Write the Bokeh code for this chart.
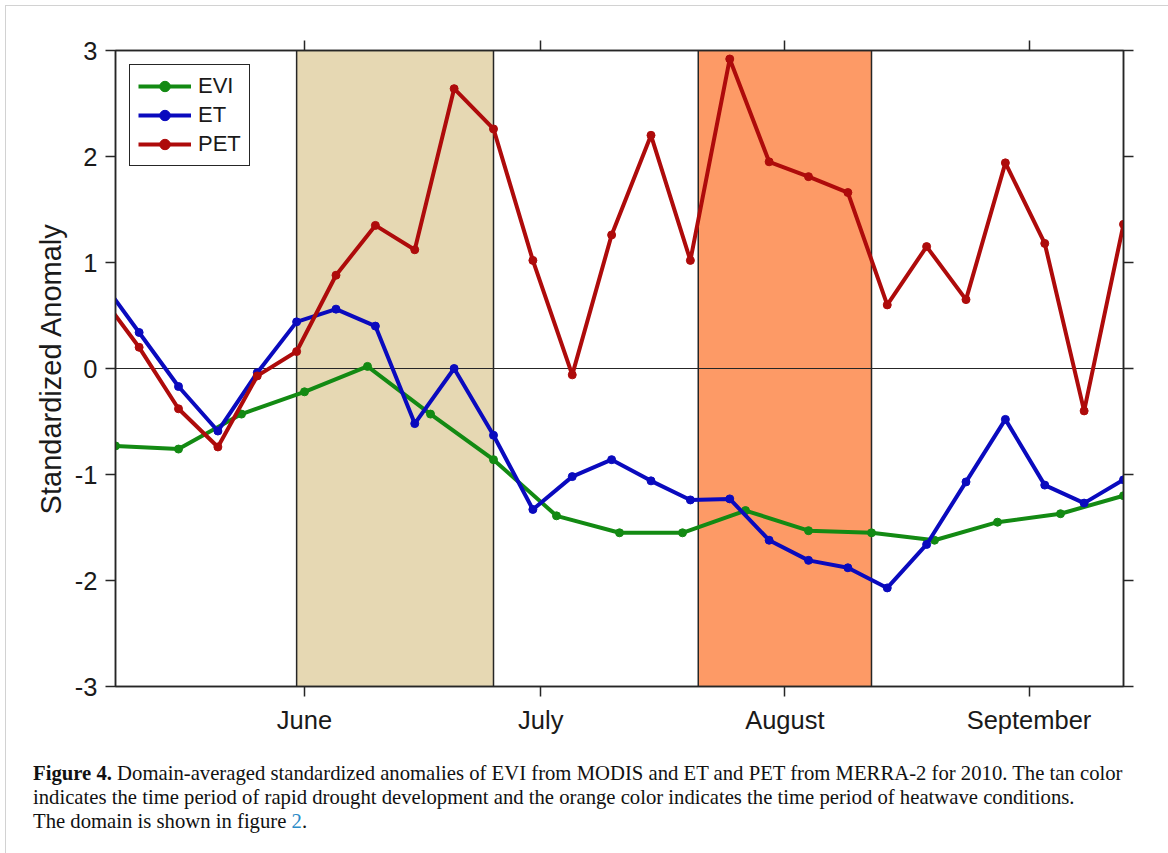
from bokeh.plotting import figure
from bokeh.layouts import column
from bokeh.models import Range1d, LinearAxis, FixedTicker, BoxAnnotation, Span, Div
from bokeh.embed import file_html
from bokeh.resources import INLINE

# ---------------- data ----------------
# day of year (2010) for the 8-day MODIS EVI values
evi_doy = [128, 136, 144, 152, 160, 168, 176, 184, 192, 200, 208, 216, 224, 232, 240, 248, 256]
evi = [-0.73, -0.76, -0.43, -0.22, 0.02, -0.43, -0.86, -1.39, -1.55, -1.55,
       -1.34, -1.53, -1.55, -1.62, -1.45, -1.37, -1.20]

# day of year (2010) for the pentad MERRA-2 ET / PET values
pent_doy = [126, 131, 136, 141, 146, 151, 156, 161, 166, 171, 176, 181, 186, 191,
            196, 201, 206, 211, 216, 221, 226, 231, 236, 241, 246, 251, 256]
et = [0.85, 0.34, -0.17, -0.59, -0.04, 0.44, 0.56, 0.40, -0.52, 0.00, -0.63, -1.33,
      -1.02, -0.86, -1.06, -1.24, -1.23, -1.62, -1.81, -1.88, -2.07, -1.66, -1.07,
      -0.48, -1.10, -1.27, -1.05]
pet = [0.70, 0.20, -0.38, -0.74, -0.07, 0.16, 0.88, 1.35, 1.12, 2.64, 2.26, 1.02,
       -0.06, 1.26, 2.20, 1.02, 2.92, 1.95, 1.81, 1.66, 0.60, 1.15, 0.65, 1.94,
       1.18, -0.40, 1.36]

month_labels = ["June", "July", "August", "September"]
month_doy = [152, 182, 213, 244]
y_ticks = [-3, -2, -1, 0, 1, 2, 3]
y_tick_labels = ["-3", "-2", "-1", "0", "1", "2", "3"]

drought_period = (151, 176)   # rapid drought development (tan)
heatwave_period = (202, 224)  # heatwave conditions (orange)

x_start, x_end = 128, 256
y_start, y_end = -3, 3

caption_bold = "Figure 4."
caption_l1 = ("Domain-averaged standardized anomalies of EVI from MODIS and ET and PET "
              "from MERRA-2 for 2010. The tan color")
caption_l2 = ("indicates the time period of rapid drought development and the orange "
              "color indicates the time period of heatwave conditions.")
caption_l3 = "The domain is shown in figure"
caption_link = "2"

# ---------------- styling ----------------
AX = "#262626"
FONT = "Liberation Sans"
C_EVI = "#138A13"
C_ET = "#0A0ABE"
C_PET = "#AE0B0B"
TAN = "#E6D8B3"
ORANGE = "#FD9A66"

p = figure(width=1168, height=756,
           x_range=Range1d(x_start, x_end), y_range=Range1d(y_start, y_end),
           output_backend="svg", toolbar_location=None,
           min_border_left=115, min_border_right=45,
           min_border_top=50, min_border_bottom=70)
p.background_fill_color = "white"
p.border_fill_alpha = 0
p.xgrid.visible = False
p.ygrid.visible = False
p.outline_line_color = AX
p.outline_line_width = 1.5

# shaded periods
for (a, b), col in [(drought_period, TAN), (heatwave_period, ORANGE)]:
    box = BoxAnnotation(left=a, right=b, fill_color=col, fill_alpha=1.0,
                        line_color=AX, line_width=1.5, line_alpha=1.0, level="image")
    p.add_layout(box)

zero = Span(location=0, dimension="width", line_color=AX, line_width=1.2, level="underlay")
p.add_layout(zero)

# series
for xs, ys, col, name in [(evi_doy, evi, C_EVI, "EVI"),
                          (pent_doy, et, C_ET, "ET"),
                          (pent_doy, pet, C_PET, "PET")]:
    p.line(xs, ys, line_color=col, line_width=4, line_join="round", legend_label=name)
    p.scatter(xs, ys, marker="circle", size=8, fill_color=col, line_color=col,
              legend_label=name)

# axes
def style_axis(ax, labels=True):
    ax.axis_line_color = AX
    ax.axis_line_width = 1.5
    ax.major_tick_line_color = AX
    ax.major_tick_line_width = 1.5
    ax.major_tick_out = 10
    ax.major_tick_in = 0
    ax.minor_tick_line_color = None
    ax.major_label_text_font = FONT
    ax.major_label_text_color = "#1a1a1a"
    if labels:
        ax.major_label_text_font_size = "25.5px"
    else:
        ax.major_label_text_font_size = "1px"
        ax.major_label_text_alpha = 0

xa = p.xaxis[0]
xa.ticker = FixedTicker(ticks=month_doy)
xa.major_label_overrides = {d: m for d, m in zip(month_doy, month_labels)}
xa.major_label_standoff = 9
style_axis(xa)

ya = p.yaxis[0]
ya.ticker = FixedTicker(ticks=y_ticks)
ya.major_label_overrides = {t: s for t, s in zip(y_ticks, y_tick_labels)}
ya.major_label_standoff = 8
ya.axis_label = "Standardized Anomaly"
ya.axis_label_text_font = FONT
ya.axis_label_text_font_size = "29px"
ya.axis_label_text_font_style = "normal"
ya.axis_label_text_color = "#1a1a1a"
ya.axis_label_standoff = 5
style_axis(ya)

top = LinearAxis(ticker=FixedTicker(ticks=month_doy),
                 major_label_overrides={d: "" for d in month_doy})
style_axis(top, labels=False)
p.add_layout(top, "above")
right = LinearAxis(ticker=FixedTicker(ticks=y_ticks),
                   major_label_overrides={t: "" for t in y_ticks})
style_axis(right, labels=False)
p.add_layout(right, "right")

# legend
lg = p.legend[0]
lg.location = "top_left"
lg.margin = 14
lg.padding = 8
lg.spacing = 3
lg.label_height = 26
lg.glyph_height = 26
lg.glyph_width = 53
lg.label_standoff = 7
lg.label_text_font = FONT
lg.label_text_font_size = "22px"
lg.label_text_color = "#1a1a1a"
lg.border_line_color = AX
lg.border_line_width = 1.5
lg.border_line_alpha = 1
lg.background_fill_alpha = 1

# caption
caption_html = (
    '<div style="font-family:\'Liberation Serif\',serif; font-size:20.7px; line-height:24px; '
    'color:#111111; white-space:nowrap; padding-left:28px; margin:0;">'
    f'<b>{caption_bold}</b> {caption_l1}<br>{caption_l2}<br>{caption_l3} '
    f'<span style="color:#2A8BC8">{caption_link}</span>.</div>'
)
cap = Div(text=caption_html, width=1168, height=97)

layout = column(p, cap, spacing=0,
                styles={"outline": "1.5px solid #d2d2d2", "outline-offset": "-6px"})

open("out.html", "w").write(file_html(layout, INLINE))
